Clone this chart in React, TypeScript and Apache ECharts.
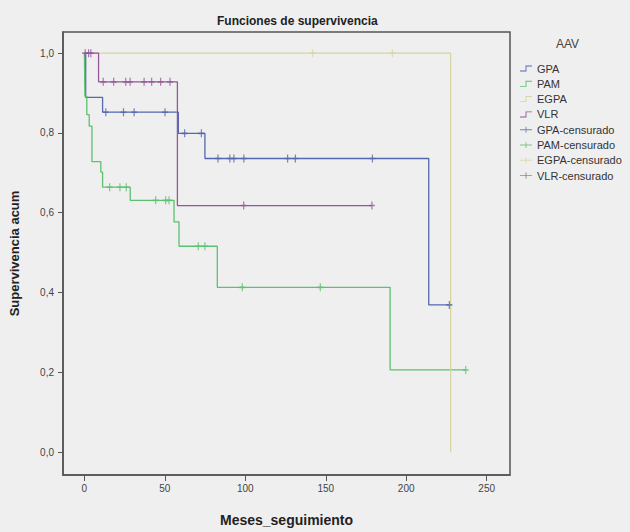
import React, { useEffect, useRef } from "react";
import * as echarts from "echarts";

// ---- Data (months, cumulative survival) ----
const gpaTimes = [0, 0.8, 11.3, 58.4, 74.9, 214, 226.8];
const gpaSurv = [1, 0.889, 0.852, 0.799, 0.736, 0.369, 0.369];
const gpaCensTimes = [13.3, 24.3, 30.9, 50.1, 62.3, 72.7, 83, 90.4, 92.9, 99.1, 126.3, 131.1, 179, 226.8];
const gpaCensSurv = [0.852, 0.852, 0.852, 0.852, 0.799, 0.799, 0.736, 0.736, 0.736, 0.736, 0.736, 0.736, 0.736, 0.369];

const pamTimes = [0, 0.3, 1.5, 3, 4.7, 10.2, 11.3, 28.5, 55.7, 58.8, 82.6, 190, 237];
const pamSurv = [1, 0.892, 0.846, 0.817, 0.728, 0.702, 0.664, 0.631, 0.577, 0.516, 0.413, 0.206, 0.206];
const pamCensTimes = [15.7, 22.1, 26.0, 44.3, 50.5, 52.6, 70.8, 74.9, 98.1, 146.6, 237];
const pamCensSurv = [0.664, 0.664, 0.664, 0.631, 0.631, 0.631, 0.516, 0.516, 0.413, 0.413, 0.206];

const egpaTimes = [0, 227.6];
const egpaSurv = [1, 0];
const egpaCensTimes = [141.9, 191.4];
const egpaCensSurv = [1, 1];

const vlrTimes = [0, 8.8, 57.8, 178.7];
const vlrSurv = [1, 0.928, 0.618, 0.618];
const vlrCensTimes = [0.5, 2.6, 4.0, 11.7, 18.2, 25.7, 28.4, 37.1, 41.8, 47.4, 53.2, 99, 178.7];
const vlrCensSurv = [1, 1, 1, 0.928, 0.928, 0.928, 0.928, 0.928, 0.928, 0.928, 0.928, 0.618, 0.618];

const groups = ["GPA", "PAM", "EGPA", "VLR"];
const groupColors = ["#5468ad", "#5cc170", "#d8d5a4", "#93579a"];
const xTicks = [0, 50, 100, 150, 200, 250];
const yTicks = [0, 0.2, 0.4, 0.6, 0.8, 1.0];

const zip = (a: number[], b: number[]) => a.map((v, i) => [v, b[i]]);

const curves = [
  zip(gpaTimes, gpaSurv),
  zip(pamTimes, pamSurv),
  zip(egpaTimes, egpaSurv),
  zip(vlrTimes, vlrSurv),
];
const censored = [
  zip(gpaCensTimes, gpaCensSurv),
  zip(pamCensTimes, pamCensSurv),
  zip(egpaCensTimes, egpaCensSurv),
  zip(vlrCensTimes, vlrCensSurv),
];

const PLUS = "path://M4,0h2v4h4v2h-4v4h-2v-4h-4v-2h4z";
const STEP_ICON = "path://M0,8.5L9.25,8.5L9.25,0L20,0L20,1.5L10.75,1.5L10.75,10L0,10Z";
const PLUS_ICON =
  "path://M0,4.25L9.25,4.25L9.25,0L10.75,0L10.75,4.25L20,4.25L20,5.75L10.75,5.75L10.75,10L9.25,10L9.25,5.75L0,5.75Z";

export default function App() {
  const ref = useRef<HTMLDivElement>(null);
  useEffect(() => {
    document.body.style.margin = "0";
    const chart = echarts.init(ref.current!, null, { renderer: "svg" });
    const font = "Liberation Sans, Arial, sans-serif";
    const series: any[] = [];
    groups.forEach((g, i) => {
      series.push({
        name: g,
        type: "line",
        step: "end",
        data: curves[i],
        showSymbol: false,
        lineStyle: { color: groupColors[i], width: 1.3 },
        itemStyle: { color: groupColors[i] },
        z: 2,
      });
    });
    groups.forEach((g, i) => {
      series.push({
        name: g + "-censurado",
        type: "scatter",
        data: censored[i],
        symbol: PLUS,
        symbolSize: [6, 8],
        itemStyle: { color: groupColors[i] },
        z: 3,
      });
    });
    const legendData = [
      ...groups.map((g) => ({ name: g, icon: STEP_ICON })),
      ...groups.map((g) => ({ name: g + "-censurado", icon: PLUS_ICON })),
    ];
    chart.setOption({
      animation: false,
      backgroundColor: "#efefef",
      textStyle: { fontFamily: font },
      title: {
        text: "Funciones de supervivencia",
        left: 212,
        top: 10,
        textStyle: { fontSize: 12, fontWeight: "bold", color: "#222", fontFamily: font },
      },
      graphic: [
        {
          type: "text",
          left: 556,
          top: 38,
          style: { text: "AAV", fontSize: 12, fill: "#444", fontFamily: font },
        },
      ],
      legend: {
        orient: "vertical",
        left: 515,
        top: 58,
        itemWidth: 12,
        itemHeight: 8,
        itemGap: 4.3,
        data: legendData,
        itemStyle: { borderWidth: 0 },
        textStyle: { fontSize: 11, color: "#333", lineHeight: 10, fontFamily: font },
        selectedMode: false,
      },
      grid: {
        left: 62,
        right: 120,
        top: 32,
        bottom: 54,
        show: true,
        backgroundColor: "#efefef",
        borderColor: "#555",
        borderWidth: 1.5,
      },
      xAxis: {
        type: "value",
        min: -13.3,
        max: 264.5,
        name: "Meses_seguimiento",
        nameLocation: "middle",
        nameGap: 38,
        nameTextStyle: { fontSize: 14, fontWeight: "bold", color: "#222", fontFamily: font },
        axisLine: { show: true, onZero: false, lineStyle: { color: "#555", width: 1.5 } },
        axisTick: { show: true, customValues: xTicks, length: 6, lineStyle: { color: "#555" } },
        axisLabel: { customValues: xTicks, fontSize: 10, color: "#444", margin: 8 },
        splitLine: { show: false },
      },
      yAxis: {
        type: "value",
        min: -0.0573,
        max: 1.053,
        name: "Supervivencia acum",
        nameLocation: "middle",
        nameGap: 42,
        nameTextStyle: { fontSize: 13, fontWeight: "bold", color: "#222", fontFamily: font },
        axisLine: { show: true, onZero: false, lineStyle: { color: "#555", width: 1.5 } },
        axisTick: { show: true, customValues: yTicks, length: 5, lineStyle: { color: "#555" } },
        axisLabel: {
          customValues: yTicks,
          fontSize: 10,
          color: "#444",
          margin: 9,
          formatter: (v: number) => v.toFixed(1).replace(".", ","),
        },
        splitLine: { show: false },
      },
      series,
    });
    return () => chart.dispose();
  }, []);
  return <div ref={ref} style={{ width: 630, height: 532, background: "#efefef" }} />;
}
